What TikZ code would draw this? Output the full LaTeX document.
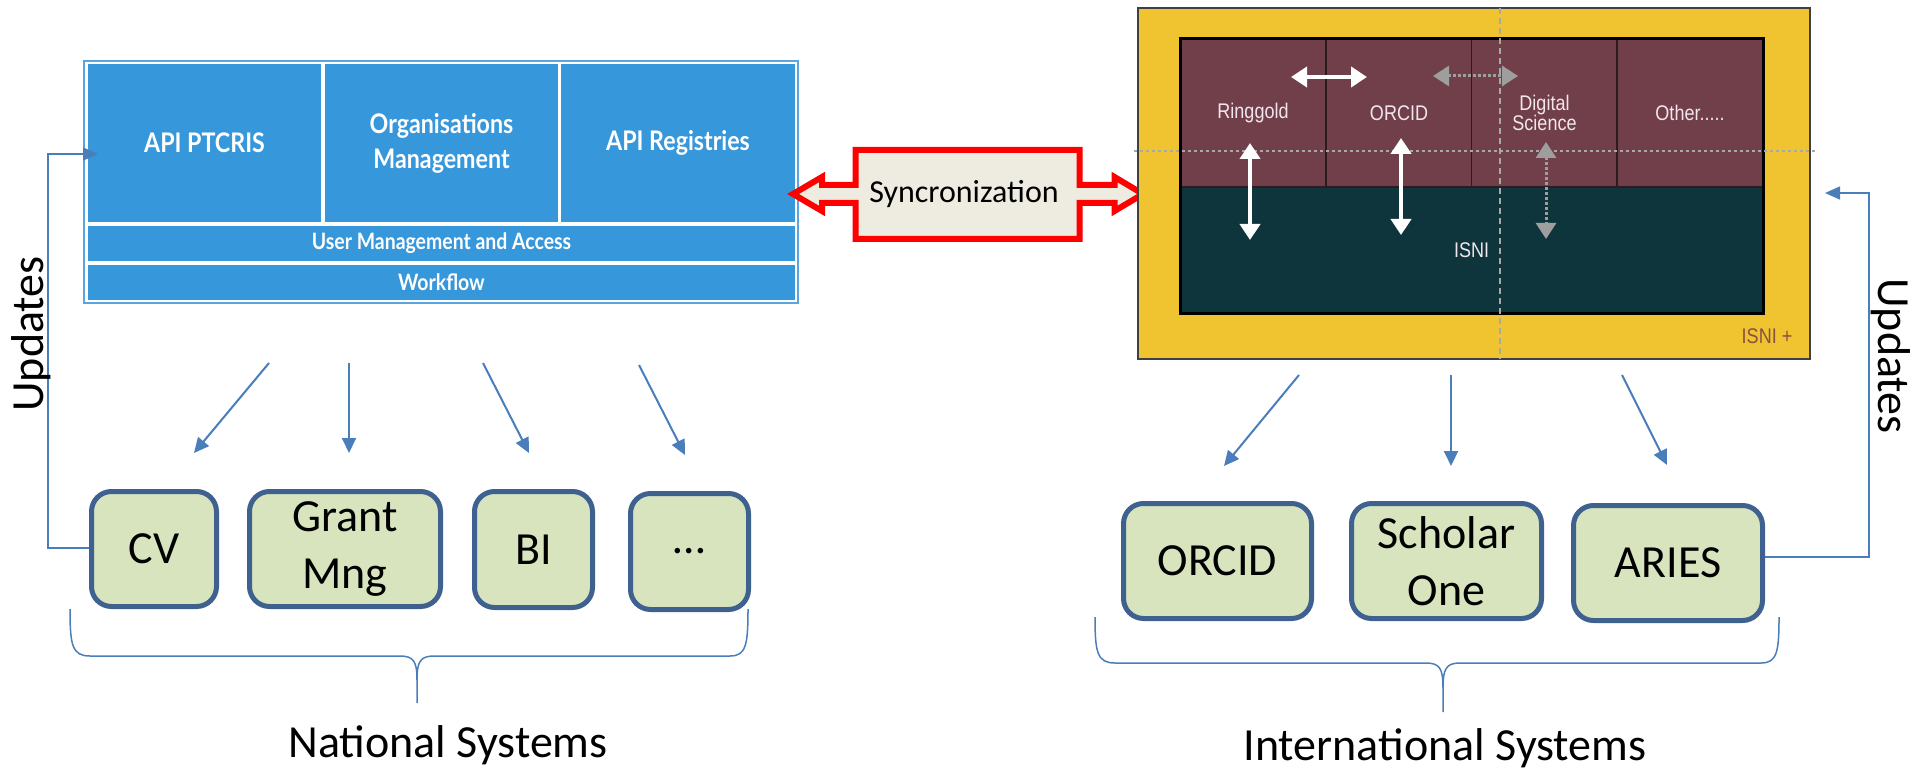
\documentclass[tikz,border=0pt]{standalone}
\usepackage{fontspec}
\setmainfont{Carlito}
\newfontfamily\panelfont[FakeStretch=0.86]{Lato}
\newfontfamily\panelsmallfont[FakeStretch=0.86]{Lato}
\newfontfamily\isnifont[FakeStretch=0.85]{Liberation Sans}
\usetikzlibrary{arrows.meta}
\definecolor{panelblue}{HTML}{3797DB}
\definecolor{panelframe}{HTML}{5AA5E0}
\definecolor{boxfill}{HTML}{D7E4BD}
\definecolor{boxborder}{HTML}{3F6190}
\definecolor{flowblue}{HTML}{4A7EBB}
\definecolor{syncred}{HTML}{FF0000}
\definecolor{syncfill}{HTML}{EEEBE0}
\definecolor{isniyellow}{HTML}{F0C330}
\definecolor{isnimaroon}{HTML}{713F4A}
\definecolor{isniteal}{HTML}{0E343C}
\definecolor{cellline}{HTML}{2A1C20}
\definecolor{isnitext}{HTML}{F2E6EC}
\definecolor{graydash}{HTML}{A8A8A8}
\definecolor{grayarrow}{HTML}{9E9E9E}
\definecolor{isniplus}{HTML}{8A5040}
\begin{document}
\begin{tikzpicture}[x=0.5pt,y=-0.5pt,
  sysbox/.style={draw=boxborder, line width=2.5pt, fill=boxfill, rounded corners=10pt,
    align=center, inner sep=0pt, font=\fontsize{23}{28.5}\selectfont},
  flow/.style={draw=flowblue, line width=1pt, -{Triangle[length=7.5pt,width=7pt]}},
  updarrow/.style={draw=flowblue, line width=0.75pt, -{Triangle[length=7.5pt,width=6.5pt]}},
  bracepath/.style={draw=flowblue, line width=0.75pt},
  cell/.style={fill=panelblue, text=white, inner sep=0pt, align=center,
    font=\panelfont\bfseries\fontsize{13.5}{17.5}\selectfont},
  rowcell/.style={cell, font=\panelsmallfont\bfseries\fontsize{11.3}{13}\selectfont},
  isnicell/.style={fill=isnimaroon, draw=cellline, line width=0.75pt, text=isnitext,
    inner sep=0pt, align=center, minimum width=73pt, minimum height=74pt,
    font=\isnifont\fontsize{10.6}{10}\selectfont},
  whitearrow/.style={draw=white, line width=2.2pt, {Triangle[length=8pt,width=10pt]}-{Triangle[length=8pt,width=10pt]}},
  grayarrowstyle/.style={draw=grayarrow, line width=1.5pt, dash pattern=on 1.5pt off 1pt,
    {Triangle[length=8pt,width=10pt]}-{Triangle[length=8pt,width=10pt]}},
  bigtext/.style={font=\fontsize{23}{28}\selectfont, inner sep=0pt}
]
\useasboundingbox (0,0) rectangle (1915,770);

% ---------- national panel ----------
\node[draw=panelframe, line width=0.8pt, minimum width=357pt, minimum height=121pt, inner sep=0pt] (panel) at (441,182) {};
\node[cell, minimum width=116.5pt, minimum height=79pt] (ptcris) at (204.5,143) {API PTCRIS};
\node[cell, minimum width=116.5pt, minimum height=79pt] (orgs) at (441.5,143) {Organisations\\Management};
\node[cell, minimum width=117pt, minimum height=79pt] (regs) at (678,143) {API Registries};
\node[rowcell, minimum width=353.5pt, minimum height=17.5pt] (users) at (441.5,243.5) {User Management and Access};
\node[rowcell, minimum width=353.5pt, minimum height=17.5pt] (workflow) at (441.5,282.5) {Workflow};

% ---------- national systems ----------
\node[sysbox, minimum width=62.5pt, minimum height=57.5pt] (cv) at (154,549) {CV};
\node[sysbox, minimum width=95.5pt, minimum height=57.5pt] (grant) at (345,549) {Grant\\Mng};
\node[sysbox, minimum width=59pt, minimum height=58pt] (bi) at (533.5,549.5) {BI};
\node[sysbox, minimum width=59pt, minimum height=58pt] (more) at (689.5,551.5) {…};

\coordinate (n1s) at (269,363); \coordinate (n1e) at (194,453);
\coordinate (n2s) at (349,363); \coordinate (n2e) at (349,453);
\coordinate (n3s) at (483,363); \coordinate (n3e) at (529,453);
\coordinate (n4s) at (639,365); \coordinate (n4e) at (685,455);
\draw[flow] (n1s) -- (n1e);
\draw[flow] (n2s) -- (n2e);
\draw[flow] (n3s) -- (n3e);
\draw[flow] (n4s) -- (n4e);

% updates left
\coordinate (ulb) at (48,548);
\coordinate (ult) at (48,154);
\coordinate (ulend) at (98,154);
\draw[updarrow] (cv.west |- ulb) -- (ulb) -- (ult) -- (ulend);
\node[bigtext, rotate=90, anchor=base] (updl) at (43,334) {Updates};

% brace national
\draw[bracepath] (70,609) .. controls (70,645) and (72,656) .. (90,656) -- (400,656)
  .. controls (414,656) and (417,662) .. (417,680) -- (417,703);
\draw[bracepath] (417,680) .. controls (417,662) and (420,656) .. (434,656) -- (730,656)
  .. controls (746,656) and (748,645) .. (748,609);
\node[bigtext, anchor=base] (natl) at (448,757) {National Systems};

% ---------- synchronization ----------
\draw[draw=syncred, fill=syncfill, line width=3pt, line join=miter]
  (793,194) -- (822,177) -- (822,185) -- (855.5,185) -- (855.5,150) -- (1079.5,150)
  -- (1079.5,185) -- (1114.5,185) -- (1114.5,177) -- (1143,194) -- (1114.5,211)
  -- (1114.5,203) -- (1079.5,203) -- (1079.5,239) -- (855.5,239) -- (855.5,203)
  -- (822,203) -- (822,211) -- cycle;
\node[font=\fontsize{16}{19}\selectfont, inner sep=0pt] (sync) at (964,194) {Syncronization};

% ---------- ISNI ----------
\node[fill=isniyellow, draw=black!75, line width=1pt, minimum width=336pt, minimum height=175.5pt, inner sep=0pt] (isni) at (1474,183.5) {};
\node[isnicell] (ringgold) at (1253,113) {Ringgold};
\node[isnicell] (orcidc) at (1399,113) {ORCID};
\node[isnicell] (digital) at (1544.5,113) {Digital\\Science};
\node[isnicell] (other) at (1690,113) {Other.....};
\node[fill=isniteal, draw=cellline, line width=0.75pt, minimum width=291.5pt, minimum height=63pt,
  inner sep=0pt, text=isnitext, font=\isnifont\fontsize{10.6}{10}\selectfont] (isnicore) at (1471.5,250) {ISNI};
\draw[black, line width=1.5pt] (1180,39) rectangle (1763,313);
\draw[graydash, line width=0.6pt, dash pattern=on 3pt off 2pt] (1500,8) -- (1500,359);
\draw[graydash, line width=0.6pt, dash pattern=on 1.5pt off 1.5pt] (1134,151) -- (1815,151);
\node[text=isniplus, inner sep=0pt, font=\isnifont\fontsize{10.6}{10}\selectfont] (isniplus) at (1767,336) {ISNI +};

\draw[whitearrow] (1291,77) -- (1367,77);
\draw[whitearrow, line width=2pt] (1250,143) -- (1250,240);
\draw[whitearrow, line width=2pt] (1401,138) -- (1401,235);
\draw[grayarrowstyle] (1433,76) -- (1518,76);
\draw[grayarrowstyle] (1546,142) -- (1546,239);

% ---------- international systems ----------
\node[sysbox, minimum width=94pt, minimum height=57.5pt] (orcid) at (1217.5,561) {ORCID};
\node[sysbox, minimum width=95pt, minimum height=57.5pt] (scholar) at (1446.5,561) {Scholar\\One};
\node[sysbox, minimum width=94.5pt, minimum height=57.5pt] (aries) at (1668,563) {ARIES};

\coordinate (i1s) at (1299,375); \coordinate (i1e) at (1224,466);
\coordinate (i2s) at (1451,375); \coordinate (i2e) at (1451,466);
\coordinate (i3s) at (1622,375); \coordinate (i3e) at (1667,465);
\draw[flow] (i1s) -- (i1e);
\draw[flow] (i2s) -- (i2e);
\draw[flow] (i3s) -- (i3e);

% updates right
\coordinate (urb) at (1869,557);
\coordinate (urt) at (1869,193);
\coordinate (urend) at (1825,193);
\draw[updarrow] (aries.east |- urb) -- (urb) -- (urt) -- (urend);
\node[bigtext, rotate=-90, anchor=base] (updr) at (1878,356) {Updates};

% brace international
\draw[bracepath] (1095,617) .. controls (1095,652) and (1097,663) .. (1115,663) -- (1426,663)
  .. controls (1440,663) and (1443,669) .. (1443,688) -- (1443,712);
\draw[bracepath] (1443,688) .. controls (1443,669) and (1446,663) .. (1460,663) -- (1761,663)
  .. controls (1777,663) and (1779,652) .. (1779,617);
\node[bigtext, anchor=base] (intl) at (1445,760) {International Systems};
\end{tikzpicture}
\end{document}
